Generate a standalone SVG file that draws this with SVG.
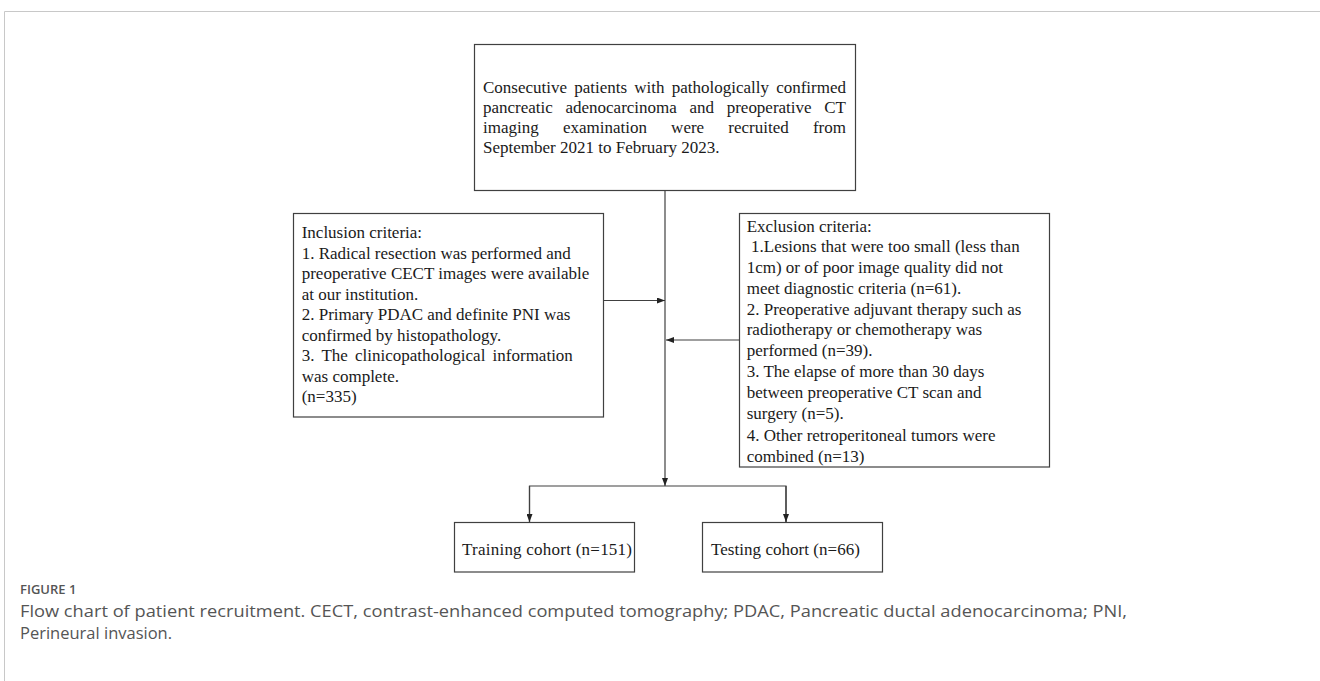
<svg xmlns="http://www.w3.org/2000/svg" width="1320" height="681" viewBox="0 0 1320 681">
<style>
.box{fill:#fff;stroke:#404040;stroke-width:1.2}
.t{font-family:"Liberation Serif","Times New Roman",serif;font-size:17px;fill:#1a1a1a}
.ln{stroke:#404040;stroke-width:1.2;fill:none}
.cap{font-family:"Open Sans","Noto Sans",sans-serif;fill:#555}
</style>
<defs>
<marker id="ah" markerWidth="8" markerHeight="6" refX="8" refY="3" orient="auto" markerUnits="userSpaceOnUse">
<path d="M0,0 L8,3 L0,6 Z" fill="#222"/>
</marker>
</defs>
<rect width="1320" height="681" fill="#fff"/>
<path d="M4.5,681 V11.5 H1320" fill="none" stroke="#c8c8c8" stroke-width="1"/>

<g id="connectors">
<line class="ln" x1="665" y1="191" x2="665" y2="486" marker-end="url(#ah)"/>
<line class="ln" x1="603" y1="300.5" x2="665" y2="300.5" marker-end="url(#ah)"/>
<line class="ln" x1="739" y1="340" x2="666" y2="340" marker-end="url(#ah)"/>
<path class="ln" d="M529.5,522 V486 H786 V522"/>
<line class="ln" x1="529.5" y1="486" x2="529.5" y2="522" marker-end="url(#ah)"/>
<line class="ln" x1="786" y1="486" x2="786" y2="522" marker-end="url(#ah)"/>
</g>

<g id="recruit">
<rect class="box" x="474.5" y="44.5" width="381" height="146"/>
<text class="t" x="483" y="93.3" word-spacing="3" textLength="363" lengthAdjust="spacing">Consecutive patients with pathologically confirmed</text>
<text class="t" x="483" y="113.3" word-spacing="8.4" textLength="363" lengthAdjust="spacing">pancreatic adenocarcinoma and preoperative CT</text>
<text class="t" x="483" y="133.3" word-spacing="19.9" textLength="363" lengthAdjust="spacing">imaging examination were recruited from</text>
<text class="t" x="483" y="153.3">September 2021 to February 2023.</text>
</g>

<g id="inclusion">
<rect class="box" x="293.5" y="213.5" width="310" height="203.5"/>
<text class="t" x="301.7" y="238.3">Inclusion criteria:</text>
<text class="t" x="301.7" y="258.8">1. Radical resection was performed and</text>
<text class="t" x="301.7" y="279.3">preoperative CECT images were available</text>
<text class="t" x="301.7" y="299.8">at our institution.</text>
<text class="t" x="301.7" y="320.3">2. Primary PDAC and definite PNI was</text>
<text class="t" x="301.7" y="340.8">confirmed by histopathology.</text>
<text class="t" x="301.7" y="361.3" word-spacing="3">3. The clinicopathological information</text>
<text class="t" x="301.7" y="381.8">was complete.</text>
<text class="t" x="301.7" y="402.3">(n=335)</text>
</g>

<g id="exclusion">
<rect class="box" x="739.5" y="213.5" width="310" height="253.5"/>
<text class="t" x="746.7" y="231.7">Exclusion criteria:</text>
<text class="t" x="751" y="252.4">1.Lesions that were too small (less than</text>
<text class="t" x="746.7" y="273.1">1cm) or of poor image quality did not</text>
<text class="t" x="746.7" y="293.8">meet diagnostic criteria (n=61).</text>
<text class="t" x="746.7" y="314.5">2. Preoperative adjuvant therapy such as</text>
<text class="t" x="746.7" y="335.2">radiotherapy or chemotherapy was</text>
<text class="t" x="746.7" y="356">performed (n=39).</text>
<text class="t" x="746.7" y="377">3. The elapse of more than 30 days</text>
<text class="t" x="746.7" y="398">between preoperative CT scan and</text>
<text class="t" x="746.7" y="419">surgery (n=5).</text>
<text class="t" x="746.7" y="440.5">4. Other retroperitoneal tumors were</text>
<text class="t" x="746.7" y="462">combined (n=13)</text>
</g>

<g id="training">
<rect class="box" x="454.5" y="522.5" width="180" height="49.5"/>
<text class="t" x="462" y="554.5" textLength="170" lengthAdjust="spacing">Training cohort (n=151)</text>
</g>

<g id="testing">
<rect class="box" x="702.5" y="522.5" width="180" height="49.5"/>
<text class="t" x="711" y="554.5" textLength="149" lengthAdjust="spacing">Testing cohort (n=66)</text>
</g>

<g id="caption">
<text class="cap" x="20" y="594" font-size="13" font-weight="600">FIGURE 1</text>
<text class="cap" x="20" y="617" font-size="16.5" textLength="1107" lengthAdjust="spacingAndGlyphs">Flow chart of patient recruitment. CECT, contrast-enhanced computed tomography; PDAC, Pancreatic ductal adenocarcinoma; PNI,</text>
<text class="cap" x="20" y="639" font-size="16.5">Perineural invasion.</text>
</g>
</svg>
